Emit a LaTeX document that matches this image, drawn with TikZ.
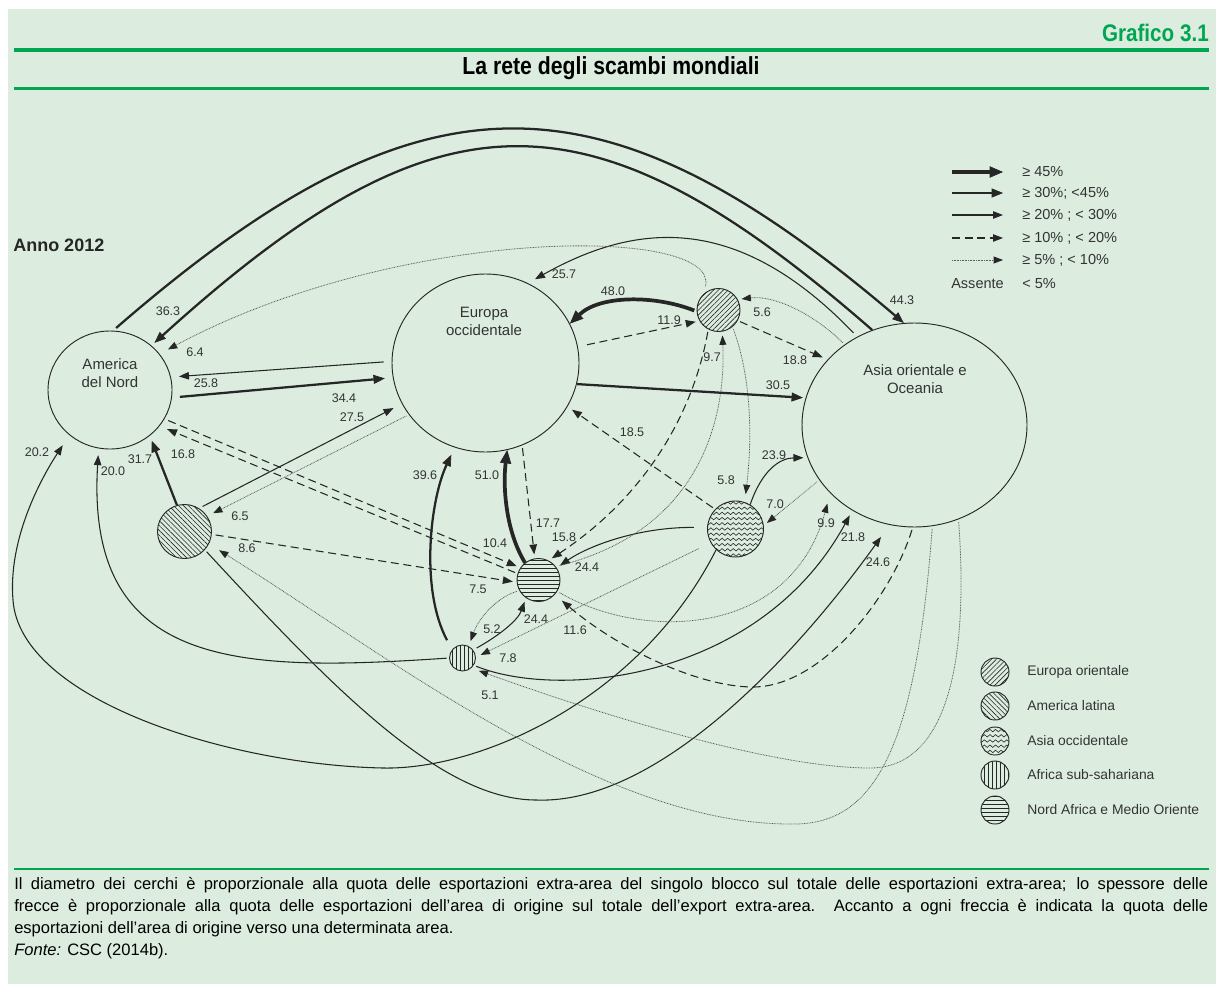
\documentclass[tikz,border=0pt]{standalone}
\usepackage{fontspec}
\setmainfont{Liberation Sans}
\newfontfamily\condfont[FakeStretch=0.86]{Liberation Sans}
\usetikzlibrary{arrows.meta,shapes.geometric,patterns.meta,decorations.pathmorphing}
\definecolor{bg}{RGB}{220,237,224}
\definecolor{gr}{RGB}{0,166,81}
\definecolor{ink}{RGB}{38,38,38}
\definecolor{txt}{RGB}{51,51,51}
\newcommand\fsz[1]{\fontsize{#1}{1.2\dimexpr#1\relax}\selectfont}
\begin{document}
\begin{tikzpicture}[x=0.75pt,y=-0.75pt,
  base/.style={draw=ink, line width=0.8pt, -{Triangle[length=7.5pt,width=5.6pt]}},
  p20/.style={base},
  p30/.style={base, line width=1.7pt, -{Triangle[length=8.5pt,width=6.8pt,line width=0.5pt]}},
  p45/.style={base, line width=2.8pt, -{Triangle[length=10pt,width=8.5pt,line width=0.5pt]}},
  p10/.style={base, dash pattern=on 6pt off 3.5pt},
  p5/.style={base, draw=ink!75, line width=0.6pt, dash pattern=on 0.6pt off 0.6pt, -{Triangle[length=7pt,width=5.2pt,color=ink]}},
  lab/.style={font=\fsz{9.4pt}, text=txt, inner sep=0pt},
  bignode/.style={ellipse, draw=ink, line width=0.7pt, inner sep=0pt},
  blob/.style={circle, draw=ink, line width=0.7pt, inner sep=0pt, pattern color=ink},
  nodetxt/.style={font=\fsz{11.25pt}, text=txt, align=center, inner sep=0pt},
  legtxt/.style={font=\fsz{10.9pt}, text=txt, inner sep=0pt, anchor=west},
  keytxt/.style={font=\fsz{10.4pt}, text=txt, inner sep=0pt, anchor=west},
  nel/.style={pattern={Lines[angle=45,distance=2.6pt,line width=0.45pt]}},
  nwl/.style={pattern={Lines[angle=-45,distance=2.6pt,line width=0.45pt]}},
  hl/.style={pattern={Lines[angle=0,distance=3pt,line width=0.5pt]}},
  vl/.style={pattern={Lines[angle=90,distance=3pt,line width=0.5pt]}},
  waves/.style={path picture={
    \foreach \k in {-7,...,7}{
      \draw[ink, line width=0.45pt, decorate, decoration={snake, segment length=4.2pt, amplitude=0.9pt}]
        ([xshift=-3pt,yshift=\k*3.9pt]path picture bounding box.west) -- ([xshift=3pt,yshift=\k*3.9pt]path picture bounding box.east);
    }}},
  capt/.style={font=\fsz{12.4pt}, text=black, inner sep=0pt, anchor=west}
]
\useasboundingbox (0,0) rectangle (1216,984);
\fill[white] (0,0) rectangle (1216,984);
\fill[bg] (8,9) rectangle (1216,984);

% header
\node[font=\condfont\bfseries\fsz{18pt}, text=gr, anchor=east, inner sep=0pt] (graf) at (1209,33) {Grafico 3.1};
\draw[gr, line width=2.3pt] (14,50) -- (1209,50);
\node[font=\condfont\bfseries\fsz{18.5pt}, text=black, inner sep=0pt] (title) at (611,68) {La rete degli scambi mondiali};
\draw[gr, line width=2.3pt] (14,88.5) -- (1209,88.5);

\node[font=\bfseries\fsz{13.5pt}, text=ink, anchor=west, inner sep=0pt] (anno) at (13,245) {Anno 2012};

% main nodes
\node[bignode, minimum width=93pt, minimum height=88.5pt] (AN) at (110,390) {};
\node[bignode, minimum width=140.25pt, minimum height=133.5pt] (EurOcc) at (485.5,363) {};
\node[bignode, minimum width=168.75pt, minimum height=153pt] (AsiaOr) at (914.5,425) {};
\node[nodetxt] (ANt) at (110,373) {America\\del Nord};
\node[nodetxt] (EOt) at (484,321) {Europa\\occidentale};
\node[nodetxt] (AOt) at (915,379) {Asia orientale e\\Oceania};

\node[blob, nel, minimum size=32.25pt] (EurOr) at (718.5,310) {};
\node[blob, nwl, minimum size=40.5pt] (AmLat) at (184.5,531.5) {};
\node[blob, waves, minimum size=42pt] (AsiaOcc) at (735.5,529) {};
\node[blob, hl, minimum size=32.25pt] (NAMO) at (538.5,580) {};
\node[blob, vl, minimum size=19.5pt] (AfrSS) at (462.5,658) {};

% connectors
\draw[p30, shorten <=3pt] (AN.87) .. controls (420,64) and (600,64) .. (AsiaOr.96);
\draw[p30, shorten >=3pt] (AsiaOr.114) .. controls (590,84) and (440,84) .. (AN.47);
\draw[p20, shorten <=4pt, shorten >=6pt] (AsiaOr.123) .. controls (740,215) and (640,220) .. (EurOcc.62);
\draw[p5, shorten <=6pt, shorten >=7pt] (EurOr.133) .. controls (720,225) and (400,225) .. (AN.36);
\draw[p20, shorten <=6pt, shorten >=6pt] (EurOcc.179) -- (AN.12);
\draw[p30, shorten <=6pt, shorten >=6pt] (AN.-7) -- (EurOcc.189);
\draw[p20, shorten <=3pt, shorten >=7pt] (AmLat.58) -- (EurOcc.206);
\draw[p5, shorten <=2pt, shorten >=5pt] (EurOcc.214) -- (AmLat.34);
\draw[p30, shorten >=4pt] (AmLat.106) -- (AN.-49);
\draw[p10, shorten <=3pt, shorten >=3pt] (AN.-28) -- (NAMO.146);
\draw[p10, shorten <=2pt, shorten >=6pt] (NAMO.163) -- (AN.-36);
\draw[p10, shorten <=3pt, shorten >=3pt] (AmLat.-6) -- (NAMO.186);
\draw[p10, shorten <=2pt, shorten >=3pt] (EurOcc.-66) -- (NAMO.100);
\draw[p45] (NAMO.128) .. controls (505,530) and (503,485) .. (EurOcc.-76);
\draw[p30, shorten <=8pt, shorten >=6pt] (AfrSS.141) .. controls (420,590) and (430,500) .. (EurOcc.-110);
\draw[p20, shorten <=3pt, shorten >=3pt] (AfrSS.37) .. controls (500,635) and (518,620) .. (NAMO.-125);
\draw[p5, shorten <=2pt, shorten >=4pt] (NAMO.-151) .. controls (495,598) and (478,620) .. (AfrSS.62);
\draw[p5, shorten <=10pt, shorten >=4pt] (AsiaOcc.209) -- (AfrSS.3);
\draw[p20, shorten <=10pt, shorten >=3pt] (AsiaOcc.177) .. controls (640,527) and (590,545) .. (NAMO.34);
\draw[p10, shorten <=2pt, shorten >=3pt] (EurOr.-118) .. controls (692,420) and (640,500) .. (NAMO.63);
\draw[p5, shorten <=3pt, shorten >=3pt] (NAMO.38) .. controls (700,530) and (726,420) .. (EurOr.-80);
\draw[p5, shorten <=2pt, shorten >=6pt] (EurOr.-50) .. controls (752,380) and (752,440) .. (AsiaOcc.71);
\draw[p10, shorten <=2pt, shorten >=4pt] (AsiaOcc.136) -- (EurOcc.-28.5);
\draw[p20, shorten >=3pt] (AsiaOcc.59) .. controls (762,470) and (780,458) .. (AsiaOr.197);
\draw[p5, shorten <=2pt, shorten >=3pt] (AsiaOr.210) -- (AsiaOcc.7);
\draw[p10, shorten <=2pt, shorten >=4pt] (EurOr.-29) -- (AsiaOr.143);
\draw[p5, shorten <=2pt, shorten >=3pt] (AsiaOr.131) .. controls (815,315) and (775,295) .. (EurOr.29);
\draw[p45, shorten <=2pt] (EurOr.184) .. controls (655,295) and (600,295) .. (EurOcc.25);
\draw[p10, shorten <=7pt, shorten >=3pt] (EurOcc.10) -- (EurOr.210);
\draw[p30, shorten >=2pt] (EurOcc.-13.5) -- (AsiaOr.166);
\draw[p20, shorten >=9pt] (AsiaOcc.-133) .. controls (640,700) and (480,770) .. (383,768) .. controls (230,765) and (20,700) .. (13,600) .. controls (8,540) and (40,480) .. (AN.-132);
\draw[p20, shorten <=2pt, shorten >=5pt] (AfrSS.180) .. controls (240,672) and (85,670) .. (AN.-101);
\draw[p20, shorten <=2pt, shorten >=11pt] (AmLat.-42) .. controls (330,685) and (440,800) .. (536,800) .. controls (660,805) and (800,650) .. (AsiaOr.-104);
\draw[p20, shorten <=2pt, shorten >=4pt] (AfrSS.-33) .. controls (560,700) and (760,680) .. (AsiaOr.-126);
\draw[p5, shorten <=2pt, shorten >=8pt] (NAMO.-31) .. controls (640,640) and (790,640) .. (AsiaOr.-141);
\draw[p10, shorten <=2pt, shorten >=7pt] (AsiaOr.-91) .. controls (890,600) and (820,687) .. (753,687) .. controls (700,687) and (620,650) .. (NAMO.-42);
\draw[p5, shorten <=2pt, shorten >=9pt] (AsiaOr.-80) .. controls (915,760) and (870,826) .. (790,824) .. controls (600,824) and (380,650) .. (AmLat.-27.5);
\draw[p5, shorten <=2pt, shorten >=6pt] (AsiaOr.-65) .. controls (970,680) and (940,768) .. (870,768) .. controls (760,768) and (560,700) .. (AfrSS.-49.5);

% value labels
\node[lab] (v1) at (902,300) {44.3};
\node[lab] (v2) at (168,311) {36.3};
\node[lab] (v3) at (564,274) {25.7};
\node[lab] (v4) at (195,352) {6.4};
\node[lab] (v5) at (206,383) {25.8};
\node[lab] (v6) at (344,398) {34.4};
\node[lab] (v7) at (352,417) {27.5};
\node[lab] (v8) at (240,516) {6.5};
\node[lab] (v9) at (140,459) {31.7};
\node[lab] (v10) at (183,454) {16.8};
\node[lab] (v11) at (37,452) {20.2};
\node[lab] (v12) at (113,471) {20.0};
\node[lab] (v13) at (495,543) {10.4};
\node[lab] (v14) at (478,589) {7.5};
\node[lab] (v15) at (548,523) {17.7};
\node[lab] (v16) at (487,475) {51.0};
\node[lab] (v17) at (425,475) {39.6};
\node[lab] (v18) at (536,619) {24.4};
\node[lab] (v19) at (492,629) {5.2};
\node[lab] (v20) at (508,658) {7.8};
\node[lab] (v21) at (587,567) {24.4};
\node[lab] (v22) at (564,537) {15.8};
\node[lab] (v23) at (712,357) {9.7};
\node[lab] (v24) at (726,480) {5.8};
\node[lab] (v25) at (632,432) {18.5};
\node[lab] (v26) at (774,455) {23.9};
\node[lab] (v27) at (775,504) {7.0};
\node[lab] (v28) at (795,360) {18.8};
\node[lab] (v29) at (762,312) {5.6};
\node[lab] (v30) at (613,291) {48.0};
\node[lab] (v31) at (669,320) {11.9};
\node[lab] (v32) at (778,385) {30.5};
\node[lab] (v33) at (826,523) {9.9};
\node[lab] (v34) at (853,537) {21.8};
\node[lab] (v35) at (878,562) {24.6};
\node[lab] (v36) at (575,630) {11.6};
\node[lab] (v37) at (247,548) {8.6};
\node[lab] (v38) at (490,695) {5.1};

% legend: arrows
\coordinate (k1a) at (952,172); \coordinate (k1b) at (1003,172);
\coordinate (k2a) at (952,193); \coordinate (k2b) at (1003,193);
\coordinate (k3a) at (952,215); \coordinate (k3b) at (1003,215);
\coordinate (k4a) at (952,238); \coordinate (k4b) at (1003,238);
\coordinate (k5a) at (952,260); \coordinate (k5b) at (1003,260);
\draw[p45] (k1a) -- (k1b);
\draw[p30] (k2a) -- (k2b);
\draw[p20] (k3a) -- (k3b);
\draw[p10] (k4a) -- (k4b);
\draw[p5] (k5a) -- (k5b);
\node[legtxt] (t1) at (1022,172) {≥ 45\%};
\node[legtxt] (t2) at (1022,193) {≥ 30\%; <45\%};
\node[legtxt] (t3) at (1022,215) {≥ 20\% ; < 30\%};
\node[legtxt] (t4) at (1022,238) {≥ 10\% ; < 20\%};
\node[legtxt] (t5) at (1022,260) {≥ 5\% ; < 10\%};
\node[legtxt] (t6a) at (951,284) {Assente};
\node[legtxt] (t6b) at (1022,284) {< 5\%};

% legend: circles
\node[blob, nel, minimum size=21pt] (kEO) at (995,672) {};
\node[blob, nwl, minimum size=21pt] (kAL) at (995,706) {};
\node[blob, waves, minimum size=21pt] (kAO) at (995,741) {};
\node[blob, vl, minimum size=21pt] (kAS) at (995,775) {};
\node[blob, hl, minimum size=21pt] (kNA) at (995,810) {};
\node[keytxt] (kEOt) at (1027,672) {Europa orientale};
\node[keytxt] (kALt) at (1027,706) {America latina};
\node[keytxt] (kAOt) at (1027,741) {Asia occidentale};
\node[keytxt] (kASt) at (1027,775) {Africa sub-sahariana};
\node[keytxt] (kNAt) at (1027,810) {Nord Africa e Medio Oriente};

% caption
\draw[gr, line width=1.3pt] (14,869) -- (1209,869);
\node[capt] (c1) at (14,885) {\makebox[895.5pt][s]{Il diametro dei cerchi è proporzionale alla quota delle esportazioni extra-area del singolo blocco sul totale delle esportazioni extra-area; lo spessore delle}};
\node[capt] (c2) at (14,907) {\makebox[895.5pt][s]{frecce è proporzionale alla quota delle esportazioni dell’area di origine sul totale dell’export extra-area. Accanto a ogni freccia è indicata la quota delle}};
\node[capt] (c3) at (14,929) {esportazioni dell’area di origine verso una determinata area.};
\node[capt] (c4) at (14,951) {\textit{Fonte:} CSC (2014b).};
\end{tikzpicture}
\end{document}
